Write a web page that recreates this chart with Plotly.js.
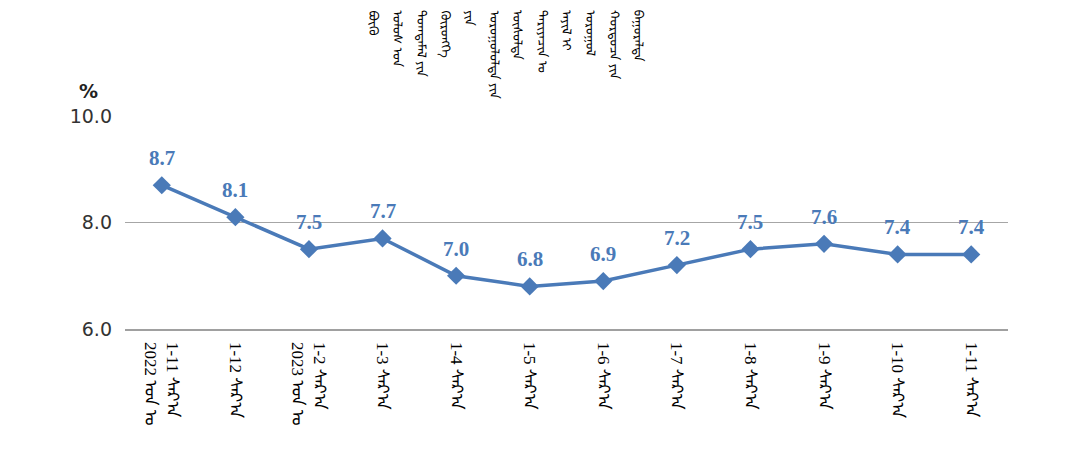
<!DOCTYPE html>
<html>
<head>
<meta charset="utf-8">
<script src="https://cdn.plot.ly/plotly-3.0.1.min.js"></script>
<style>html,body{margin:0;padding:0;background:#fff}#chart{width:1083px;height:465px}</style>
</head>
<body>
<div id="chart"></div>
<script>
// ---- data ----
const categories = [
  "1-11 ᠰᠠᠷ᠎ᠠ<br>2022 ᠣᠨ ᠤ",
  "1-12 ᠰᠠᠷ᠎ᠠ",
  "1-2 ᠰᠠᠷ᠎ᠠ<br>2023 ᠣᠨ ᠤ",
  "1-3 ᠰᠠᠷ᠎ᠠ",
  "1-4 ᠰᠠᠷ᠎ᠠ",
  "1-5 ᠰᠠᠷ᠎ᠠ",
  "1-6 ᠰᠠᠷ᠎ᠠ",
  "1-7 ᠰᠠᠷ᠎ᠠ",
  "1-8 ᠰᠠᠷ᠎ᠠ",
  "1-9 ᠰᠠᠷ᠎ᠠ",
  "1-10 ᠰᠠᠷ᠎ᠠ",
  "1-11 ᠰᠠᠷ᠎ᠠ"
];
const values = [8.7, 8.1, 7.5, 7.7, 7.0, 6.8, 6.9, 7.2, 7.5, 7.6, 7.4, 7.4];
const titleColumns = [
  "ᠪᠦᠬᠦ",
  "ᠤᠯᠤᠰ ᠤᠨ",
  "ᠲᠣᠭᠲᠠᠮᠠᠯ ᠶᠢᠨ",
  "ᠬᠥᠷᠥᠩᠭᠡ",
  "ᠶᠢᠨ",
  "ᠣᠷᠣᠭᠤᠯᠤᠯᠲᠠ ᠶᠢᠨ",
  "ᠥᠰᠦᠯᠲᠡ",
  "ᠲᠠᠷᠢᠶᠠᠴᠢᠨ ᠤ",
  "ᠠᠶᠢᠯ ᠢ",
  "ᠣᠷᠣᠭᠤᠯ",
  "ᠬᠤᠷᠳᠤᠴᠠ ᠶᠢᠨ",
  "ᠪᠠᠭᠤᠷᠠᠯᠲᠠ"
];
const yTicks = [6, 8, 10];
const unitLabel = "%";

// ---- layout helpers ----
const W = 1083, H = 465;
const margin = {l: 125, r: 75, t: 116, b: 136};
const plotW = W - margin.l - margin.r;
const plotH = H - margin.t - margin.b;
const px2x = px => (px - margin.l) / plotW;
const py2y = py => (H - margin.b - py) / plotH;

const blue = "#4a7ab8";
const mongolFont = "'Noto Sans Mongolian', 'Mongolian Baiti', 'Liberation Serif', serif";

const annotations = [];
values.forEach((v, i) => {
  annotations.push({
    x: categories[i], y: v, xref: "x", yref: "y",
    text: "<b>" + v.toFixed(1) + "</b>", showarrow: false, yshift: 27,
    font: {family: "Liberation Serif, serif", size: 21, color: blue}
  });
});
titleColumns.forEach((t, i) => {
  annotations.push({
    x: px2x(376 + i * 24.2), y: py2y(8), xref: "paper", yref: "paper",
    text: t, textangle: 90, showarrow: false,
    xanchor: "center", yanchor: "top",
    font: {family: mongolFont, size: 13, color: "#000"}
  });
});
annotations.push({
  x: px2x(88), y: py2y(91), xref: "paper", yref: "paper",
  text: "<b>" + unitLabel + "</b>", showarrow: false,
  xanchor: "center", yanchor: "middle",
  font: {family: "DejaVu Sans, sans-serif", size: 19, color: "#222"}
});

const trace = {
  x: categories, y: values, type: "scatter", mode: "lines+markers",
  line: {color: blue, width: 3.5},
  marker: {symbol: "diamond", size: 14, color: blue},
  hoverinfo: "skip", cliponaxis: false
};

const layout = {
  width: W, height: H, margin: margin,
  paper_bgcolor: "#fff", plot_bgcolor: "#fff",
  showlegend: false,
  xaxis: {
    type: "category", range: [-0.5, categories.length - 0.5],
    tickangle: 90, showgrid: false, zeroline: false,
    automargin: false,
    showline: true, linecolor: "#a0a0a0", linewidth: 1.5,
    ticks: "", ticklabelstandoff: 8,
    tickfont: {family: "Liberation Serif, " + mongolFont, size: 17, color: "#000"}
  },
  yaxis: {
    range: [6, 10], tickvals: yTicks, tickformat: ".1f",
    automargin: false,
    showgrid: true, gridcolor: "#a6a6a6", gridwidth: 1.5,
    zeroline: false, showline: false, ticks: "", ticklabelstandoff: 12,
    tickfont: {family: "DejaVu Sans, sans-serif", size: 19, color: "#333"}
  },
  annotations: annotations
};

Plotly.newPlot("chart", [trace], layout, {displayModeBar: false, staticPlot: true});
</script>
</body>
</html>
